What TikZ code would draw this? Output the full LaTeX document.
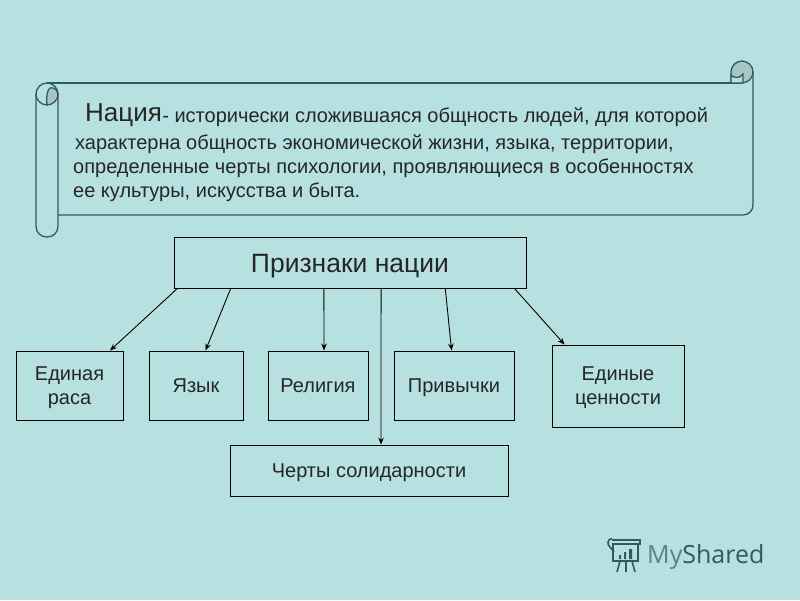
\documentclass[tikz,border=0pt]{standalone}
\usepackage{fontspec}
\setmainfont{Liberation Sans}
\newfontfamily\logofont{Open Sans}
\usetikzlibrary{calc,arrows.meta}
\definecolor{bgc}{HTML}{B7E0E1}
\definecolor{scrollc}{HTML}{2F5A5E}
\definecolor{rollc}{HTML}{A9C4C6}
\definecolor{logoa}{HTML}{5F7F8A}
\definecolor{logob}{HTML}{2F5A62}
\newcommand{\boxline}[1]{\raisebox{-6.5pt}[0pt][0pt]{#1}}
\tikzset{
  x=1pt,y=-1pt,
  box/.style={draw=black,line width=0.9pt,inner sep=0pt,align=center,text=black!85,font=\fontsize{20}{24}\selectfont},
  txt/.style={anchor=base west,inner sep=0pt,text=black!85,font=\fontsize{20}{24}\selectfont},
  link/.style={draw=black,line width=0.9pt,-{Stealth[length=7pt,width=5.5pt]}},
  scrollline/.style={draw=scrollc,line width=1.3pt}
}
\begin{document}
\begin{tikzpicture}
\useasboundingbox (0,0) rectangle (800,600);
\fill[bgc] (0,0) rectangle (800,600);
% scroll
\draw[scrollline] (47,83) -- (742,83);
\draw[scrollline] (753,72) -- (753,205) arc[start angle=0,end angle=90,radius=10pt,y radius=-10pt] -- (58,215);
\draw[scrollline] (36,94) -- (36,226) .. controls (36,233) and (41,237) .. (47,237) .. controls (53,237) and (58,233) .. (58,226) -- (58,94);
\draw[scrollline] (36,94) .. controls (36,88) and (41,83) .. (47,83) .. controls (53,83) and (58,88) .. (58,94);
\draw[scrollline] (36,94) .. controls (36,100) and (41,105) .. (47,105);
\draw[scrollline,fill=rollc] (47,105) .. controls (53,105) and (58,100) .. (58,94) .. controls (57,89) and (53,87) .. (50,88) .. controls (47,90) and (46,98) .. (47,105) -- cycle;
\draw[scrollline,fill=rollc] (731,83) -- (731,72) .. controls (731,66) and (736,61) .. (742,61) .. controls (748,61) and (753,66) .. (753,72) .. controls (753,78) and (748,83) .. (742,83) -- cycle;
\draw[scrollline,fill=bgc] (731,83) -- (731,75) .. controls (733,78) and (740,79) .. (743,74) -- (743,83) -- cycle;
% scroll text
\node[txt] (t1a) at (85,121) {\fontsize{26}{30}\selectfont Нация};
\node[txt] (t1b) at ($(t1a.base east)+(0,1.5)$) [anchor=base west] {- исторически сложившаяся общность людей, для которой};
\node[txt] (t2) at (75,149) {характерна общность экономической жизни, языка, территории,};
\node[txt] (t3) at (73,173) {определенные черты психологии, проявляющиеся в особенностях};
\node[txt] (t4) at (73,197) {ее культуры, искусства и быта.};
% boxes
\node[box,minimum width=352pt,minimum height=51pt] (main) at (350,262.5) {};
\node[anchor=base,inner sep=0pt,text=black!85,font=\fontsize{26.5}{30}\selectfont] (mainlabel) at (350,272) {Признаки нации};
\node[box,minimum width=107pt,minimum height=69pt] (rasa) at (69.5,385.5) {\boxline{Единая}\\\boxline{раса}};
\node[box,minimum width=94pt,minimum height=69pt] (yazyk) at (196,385.5) {\boxline{Язык}};
\node[box,minimum width=100pt,minimum height=69pt] (relig) at (318,385.5) {\boxline{Религия}};
\node[box,minimum width=120pt,minimum height=69pt] (priv) at (454,385.5) {\boxline{Привычки}};
\node[box,minimum width=132pt,minimum height=82pt] (cenn) at (618,386) {\boxline{Единые}\\\boxline{ценности}};
\node[box,minimum width=278pt,minimum height=51pt] (chert) at (369,470.5) {\boxline{Черты солидарности}};
% connectors
\draw[link] ($(main.south west)!0.011!(main.south east)$) -- ($(rasa.north west)!0.875!(rasa.north east)$);
\draw[link] ($(main.south west)!0.162!(main.south east)$) -- ($(yazyk.north west)!0.6!(yazyk.north east)$);
\draw[link] ($(main.south west)!0.426!(main.south east)$) -- ($(relig.north west)!0.56!(relig.north east)$);
\draw[link] ($(main.south west)!0.77!(main.south east)$) -- ($(priv.north west)!0.48!(priv.north east)$);
\draw[link] ($(main.south west)!0.966!(main.south east)$) -- ($(cenn.north west)!0.098!(cenn.north east)$);
\draw[link] ($(main.south west)!0.588!(main.south east)$) -- ($(chert.north west)!0.543!(chert.north east)$);
% logo
\begin{scope}[draw=logob,line width=1.6pt]
\draw (612,540) -- (640,540) -- (640,544) -- (612,544);
\draw (612,538.5) .. controls (607,539) and (607,545) .. (610,547) -- (614,552);
\draw (613,544) -- (613,561) -- (638,561) -- (638,544);
\draw (620,561) -- (617,572) (626,561) -- (626,572) (632,561) -- (635,572);
\fill[logob] (619,555) rectangle (621,559) (624,552) rectangle (626,559) (629,549) rectangle (632,559);
\end{scope}
\node[anchor=base west,inner sep=0pt,font=\logofont\fontsize{25}{30}\selectfont] (logo) at (647,563) {\textcolor{logoa}{My}\textcolor{logob}{Shared}};
\end{tikzpicture}
\end{document}
